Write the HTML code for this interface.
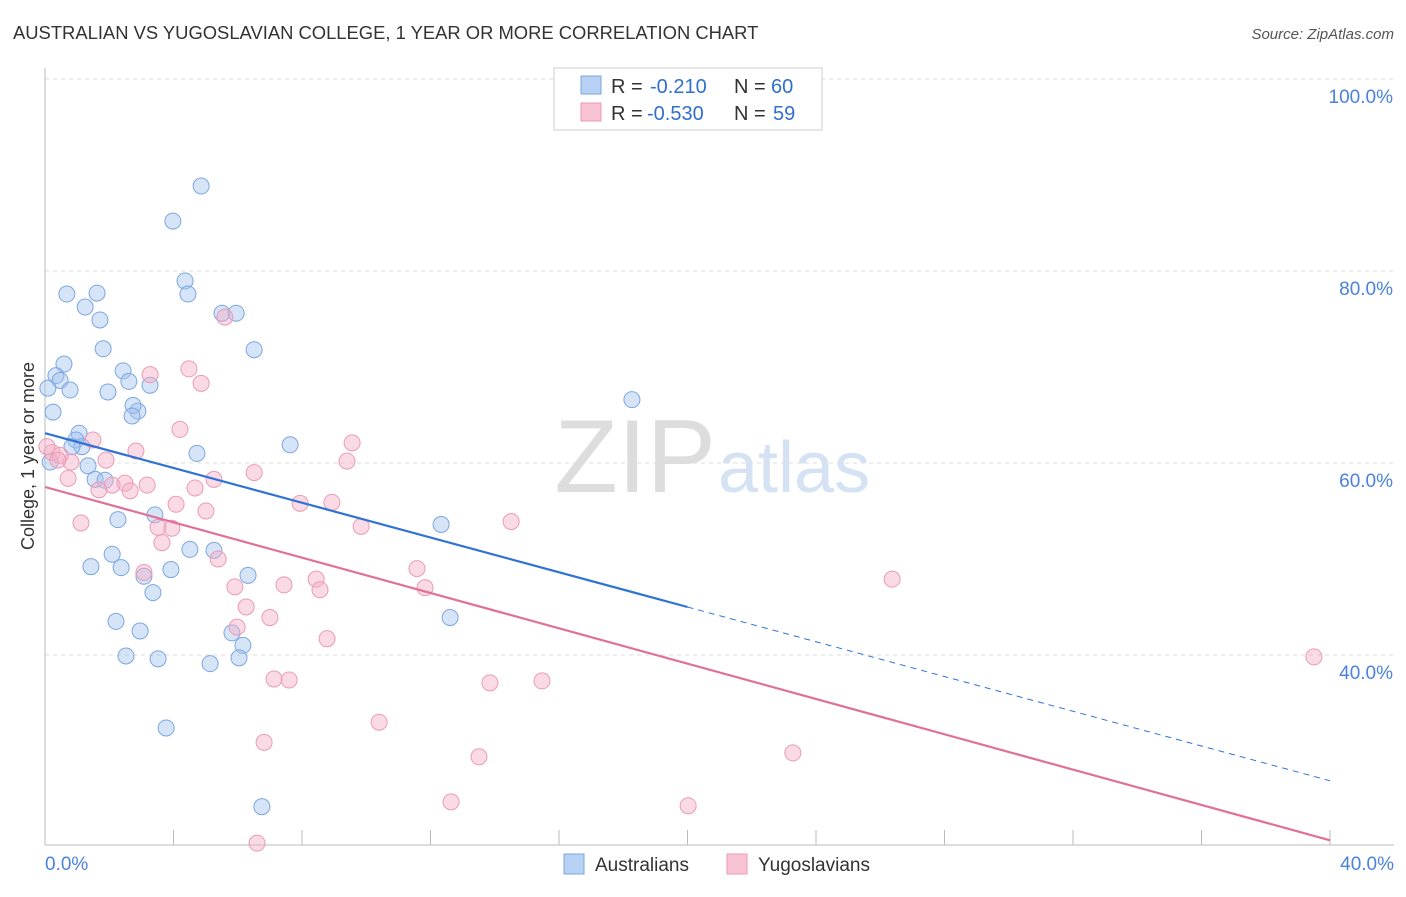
<!DOCTYPE html>
<html><head><meta charset="utf-8"><style>
body{margin:0;background:#fff;font-family:"Liberation Sans",sans-serif;}
svg text{font-family:"Liberation Sans",sans-serif;}
</style></head><body>
<svg id="chart" width="1406" height="892" viewBox="0 0 1406 892">
<text x="13" y="39" font-size="18.4" fill="#333">AUSTRALIAN VS YUGOSLAVIAN COLLEGE, 1 YEAR OR MORE CORRELATION CHART</text>
<text x="1394" y="39" font-size="15" fill="#555" font-style="italic" text-anchor="end">Source: ZipAtlas.com</text>
<text x="716" y="492" font-size="104" fill="#ddd" text-anchor="end" font-family="Liberation Serif">ZIP</text>
<text x="718" y="492" font-size="72" fill="#d4e2f4">atlas</text>
<g id="grid"></g>
<g id="marks"></g>
<text transform="translate(34,456) rotate(-90)" font-size="18" fill="#333" text-anchor="middle">College, 1 year or more</text>
<g>
<rect x="554" y="68" width="268" height="62" fill="#fff" stroke="#ccc"/>
<rect x="581" y="76" width="20" height="18" fill="#b7d1f5" stroke="#7da7e0"/>
<rect x="581" y="103" width="20" height="18" fill="#f8c3d3" stroke="#ec9ab5"/>
<text x="611" y="93" font-size="20" fill="#333">R =</text>
<text x="650" y="93" font-size="20" fill="#2f6fd0">-0.210</text>
<text x="734" y="93" font-size="20" fill="#333">N =</text>
<text x="771" y="93" font-size="20" fill="#2f6fd0">60</text>
<text x="611" y="120" font-size="20" fill="#333">R =</text>
<text x="647" y="120" font-size="20" fill="#2f6fd0">-0.530</text>
<text x="734" y="120" font-size="20" fill="#333">N =</text>
<text x="773" y="120" font-size="20" fill="#2f6fd0">59</text>
</g>
<g>
<rect x="564" y="854" width="20" height="20" fill="#b7d1f5" stroke="#7da7e0"/>
<text x="595" y="871" font-size="19" fill="#333">Australians</text>
<rect x="727" y="854" width="20" height="20" fill="#f8c3d3" stroke="#ec9ab5"/>
<text x="758" y="871" font-size="19" fill="#333">Yugoslavians</text>
</g>
</svg>
<script>
const xTickLabels=["0.0%","40.0%"];
const yTicks=[40,60,80,100];
const yTickLabels=["40.0%","60.0%","80.0%","100.0%"];
const ausX=[4.86,3.98,4.36,4.45,0.68,1.62,1.25,1.71,5.51,5.95,1.81,6.51,0.59,0.34,0.47,2.43,2.61,3.27,0.09,0.78,1.96,0.25,2.89,2.74,2.71,18.27,1.06,0.96,1.15,0.84,4.73,7.63,1.34,1.56,1.87,3.42,2.27,12.33,2.09,4.51,5.26,1.43,2.37,3.92,6.32,3.08,3.36,2.21,2.96,5.82,6.16,2.52,3.52,5.14,6.04,12.61,3.77,6.75,0.16];
const ausY=[88.85,85.2,78.96,77.6,77.6,77.7,76.25,74.9,75.6,75.6,71.9,71.8,70.3,69.1,68.6,69.6,68.5,68.1,67.8,67.6,67.4,65.3,65.4,66.0,64.9,66.6,63.1,62.4,61.7,61.7,61.0,61.9,59.7,58.3,58.2,54.6,54.1,53.6,50.5,51.0,50.9,49.2,49.1,48.9,48.3,48.2,46.5,43.5,42.5,42.3,41.0,39.9,39.6,39.1,39.7,43.9,32.4,24.2,60.1];
const yugX=[5.60,4.48,3.27,4.86,4.20,1.49,9.56,2.83,1.90,0.81,9.40,6.51,0.72,5.26,2.49,2.09,2.65,4.67,1.68,7.94,4.08,8.93,5.01,1.12,3.52,14.51,9.84,3.95,3.64,5.39,11.58,3.08,8.44,26.37,7.44,5.91,8.56,11.83,6.26,7.00,5.98,8.78,7.13,7.60,13.85,15.47,39.50,10.40,6.82,13.51,23.28,12.64,20.02,6.60,0.22,0.47,0.06,0.40,3.18];
const yugY=[75.2,69.8,69.2,68.3,63.5,62.4,62.1,61.25,60.3,60.1,60.2,59.0,58.4,58.3,57.9,57.7,57.1,57.4,57.2,55.8,55.7,55.9,55.0,53.75,53.3,53.9,53.4,53.2,51.7,50.0,49.0,48.6,47.9,47.9,47.3,47.1,46.8,47.0,45.0,43.9,42.9,41.7,37.5,37.4,37.1,37.3,39.8,33.0,30.9,29.4,29.8,24.7,24.3,20.4,61.1,60.8,61.7,60.3,57.7];
const ausTrend=[63.1,-0.905];
const yugTrend=[57.5,-0.92];

const NS="http://www.w3.org/2000/svg";
const sx=v=>45+v*32.125;
const sy=v=>79+(100-v)*9.6;
function mk(tag,attrs,parent){const e=document.createElementNS(NS,tag);for(const k in attrs)e.setAttribute(k,attrs[k]);parent.appendChild(e);return e;}
const grid=document.getElementById('grid'),marks=document.getElementById('marks');
yTicks.forEach((t,i)=>{
 const l=mk('line',{x1:45,x2:1394,y1:sy(t),y2:sy(t),stroke:'#ddd','stroke-dasharray':'4,4'},grid);
 
 
 const tx=mk('text',{x:1393,y:sy(t)+24,'font-size':19,fill:'#4a82dc','text-anchor':'end'},grid);
 tx.textContent=yTickLabels[i];
 
 
});
const ax=mk('line',{x1:45,x2:45,y1:68,y2:845,stroke:'#bbb'},grid);


const bx=mk('line',{x1:45,x2:1394,y1:845,y2:845,stroke:'#bbb'},grid);


for(let i=1;i<=10;i++){
 const t=mk('line',{x1:sx(i*4),x2:sx(i*4),y1:830,y2:845,stroke:'#bbb'},grid);
 
 
}
[[0,'start',45],[40,'end',1394]].forEach((d,i)=>{
 const tx=mk('text',{x:d[2],y:870,'font-size':19,fill:'#4a82dc','text-anchor':d[1]},grid);
 tx.textContent=xTickLabels[i];
 
 
});
function pts(X,Y,fill,stroke,name){
 X.forEach((x,i)=>{
  const c=mk('circle',{cx:sx(x),cy:sy(Y[i]),r:8,fill:fill,stroke:stroke,'stroke-width':1},marks);
  
  
 });
}
pts(ausX,ausY,'rgba(164,196,240,0.45)','#7da7e0','australian-point');
pts(yugX,yugY,'rgba(245,176,198,0.45)','#ec9ab5','yugoslavian-point');
const f=(tr,x)=>tr[0]+tr[1]*x;
const l1=mk('line',{x1:sx(0),y1:sy(f(ausTrend,0)),x2:sx(20),y2:sy(f(ausTrend,20)),stroke:'#2f73d6','stroke-width':2.2},marks);


const l2=mk('line',{x1:sx(20),y1:sy(f(ausTrend,20)),x2:sx(40),y2:sy(f(ausTrend,40)),stroke:'#2f73d6','stroke-width':1,'stroke-dasharray':'6,5'},marks);


const l3=mk('line',{x1:sx(0),y1:sy(f(yugTrend,0)),x2:sx(40),y2:sy(f(yugTrend,40)),stroke:'#e0709a','stroke-width':2.2},marks);


</script>
</body></html>
